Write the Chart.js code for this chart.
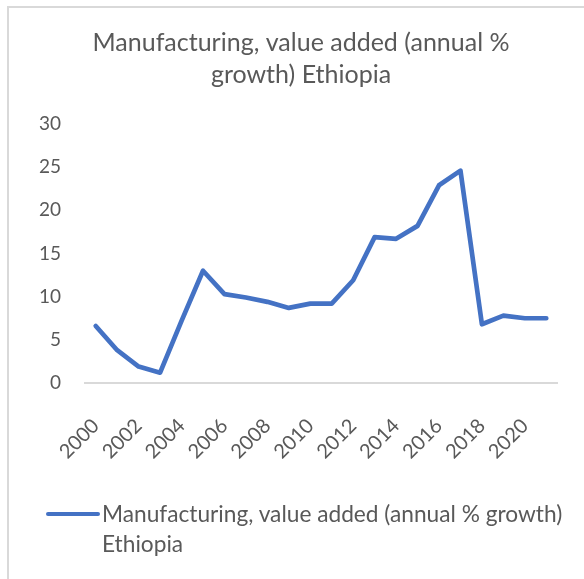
<!DOCTYPE html>
<html>
<head>
<meta charset="utf-8">
<script src="https://cdn.jsdelivr.net/npm/chart.js@4.4.1/dist/chart.umd.min.js"></script>
<style>
  html, body { margin: 0; padding: 0; background: #fff; }
  #wrap { position: relative; width: 584px; height: 579px; overflow: hidden; }
  #frame { position: absolute; left: 7px; top: 6px; width: 600px; height: 600px;
           border-left: 2px solid #d9d9d9; border-top: 2px solid #d9d9d9; }
  #myChart { position: absolute; left: 0; top: 0; }
  .legend { position: absolute; left: 46px; top: 499px; font-family: Lato, sans-serif;
            font-size: 22.7px; color: #595959; line-height: 30px; }
  .legend .swatch { position: absolute; left: 0; top: 13px; width: 54px; height: 4px;
                    background: #4472C4; border-radius: 2px; }
  .legend .txt { margin-left: 56px; white-space: nowrap; }
</style>
</head>
<body>
<div id="wrap">
  <div id="frame"></div>
  <canvas id="myChart" width="584" height="579"></canvas>
  <div class="legend">
    <div class="swatch"></div>
    <div class="txt">Manufacturing, value added (annual % growth)<br>Ethiopia</div>
  </div>
</div>
<script>
var years = ["2000", "2001", "2002", "2003", "2004", "2005", "2006", "2007", "2008", "2009", "2010",
             "2011", "2012", "2013", "2014", "2015", "2016", "2017", "2018", "2019", "2020", "2021"];
var growth = [6.6, 3.8, 1.9, 1.2, 7.2, 13.0, 10.3, 9.9, 9.4, 8.7, 9.2,
              9.2, 11.9, 16.9, 16.7, 18.2, 22.9, 24.6, 6.8, 7.8, 7.5, 7.5];
var yTicks = [0, 5, 10, 15, 20, 25, 30];

var textColor = "#595959";

// title sits centred over the plot rather than the whole canvas
var titleShift = {
    id: "titleShift",
    afterLayout: function(chart) {
        if (chart.titleBlock) chart.titleBlock.left = 45;
    }
};

new Chart("myChart", {
    type: "line",
    data: {
        labels: years,
        datasets: [{
            label: "Manufacturing, value added (annual % growth) Ethiopia",
            data: growth,
            borderColor: "#4472C4",
            backgroundColor: "#4472C4",
            borderWidth: 4.7,
            pointRadius: 0,
            tension: 0,
            borderJoinStyle: "round",
            borderCapStyle: "round"
        }]
    },
    plugins: [titleShift],
    options: {
        responsive: false,
        animation: false,
        layout: { padding: { top: 0, left: 0, right: 27, bottom: 96 } },
        plugins: {
            legend: { display: false },
            tooltip: { enabled: false },
            title: {
                display: true,
                text: ["Manufacturing, value added (annual %", "growth) Ethiopia"],
                color: textColor,
                font: { family: "Lato", size: 25, weight: "normal", lineHeight: 1.28 },
                padding: { top: 27, bottom: 33 }
            }
        },
        scales: {
            x: {
                offset: true,
                grid: { display: false, drawTicks: false },
                border: { display: true, color: "#d9d9d9", width: 2 },
                ticks: {
                    autoSkip: false,
                    maxRotation: 45,
                    minRotation: 45,
                    padding: 31,
                    color: textColor,
                    font: { family: "Lato", size: 20 },
                    callback: function(val, i) {
                        return i % 2 === 0 ? years[i] : null;
                    }
                },
                afterFit: function(scale) { scale.height = 100; }
            },
            y: {
                min: 0,
                max: 30,
                grid: { display: false, drawTicks: false },
                border: { display: false },
                afterBuildTicks: function(scale) {
                    scale.ticks = yTicks.map(function(v) { return { value: v }; });
                },
                ticks: {
                    padding: 24,
                    color: textColor,
                    font: { family: "Lato", size: 19 }
                },
                afterFit: function(scale) { scale.width = 85; }
            }
        }
    }
});
</script>
</body>
</html>
